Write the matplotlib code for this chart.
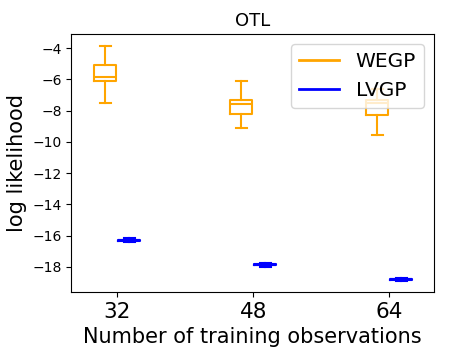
import matplotlib
matplotlib.use("Agg")
import matplotlib.pyplot as plt
from matplotlib.lines import Line2D

categories = ["32", "48", "64"]

# WEGP box statistics
wegp_whislo = [-7.52, -9.10, -9.55]
wegp_q1 = [-6.09, -8.20, -8.25]
wegp_med = [-5.83, -7.56, -7.50]
wegp_q3 = [-5.09, -7.32, -7.30]
wegp_whishi = [-3.87, -6.13, -6.60]

# LVGP box statistics
lvgp_whislo = [-16.40, -17.99, -18.90]
lvgp_q1 = [-16.31, -17.90, -18.81]
lvgp_med = [-16.28, -17.87, -18.79]
lvgp_q3 = [-16.25, -17.84, -18.77]
lvgp_whishi = [-16.16, -17.75, -18.68]

ORANGE = "#FFA500"
BLUE = "#0000FF"


def make_stats(lo, q1, med, q3, hi):
    return [dict(whislo=a, q1=b, med=c, q3=d, whishi=e, fliers=[])
            for a, b, c, d, e in zip(lo, q1, med, q3, hi)]


fig = plt.figure(figsize=(4.49, 3.59), dpi=100)
ax = fig.add_axes([71.3 / 449, 1 - 292 / 359, (434 - 71.3) / 449, (292 - 34) / 359])

base = list(range(len(categories)))
off = 0.088
w = 0.16


def draw(stats, pos, color, lw):
    props = dict(color=color, linewidth=lw)
    ax.bxp(stats, positions=pos, widths=w, showfliers=False,
           boxprops=props, whiskerprops=props, capprops=props,
           medianprops=props, manage_ticks=False)


draw(make_stats(wegp_whislo, wegp_q1, wegp_med, wegp_q3, wegp_whishi),
     [p - off for p in base], ORANGE, 1.5)
draw(make_stats(lvgp_whislo, lvgp_q1, lvgp_med, lvgp_q3, lvgp_whishi),
     [p + off for p in base], BLUE, 1.5)

ax.set_xlim(-0.338, 2.33)
ax.set_ylim(-19.6, -3.1)
ax.set_xticks(base)
ax.set_xticklabels(categories, fontsize=15.5)
ax.set_yticks([-4, -6, -8, -10, -12, -14, -16, -18])
ax.tick_params(axis="y", labelsize=10)
ax.set_xlabel("Number of training observations", fontsize=15)
ax.set_ylabel("log likelihood", fontsize=15)
ax.set_title("OTL", fontsize=13)

handles = [Line2D([], [], color=ORANGE, linewidth=2.0),
           Line2D([], [], color=BLUE, linewidth=2.0)]
ax.legend(handles, ["WEGP", "LVGP"], loc="upper right", fontsize=14.5)

fig.savefig("out.png", dpi=100)
